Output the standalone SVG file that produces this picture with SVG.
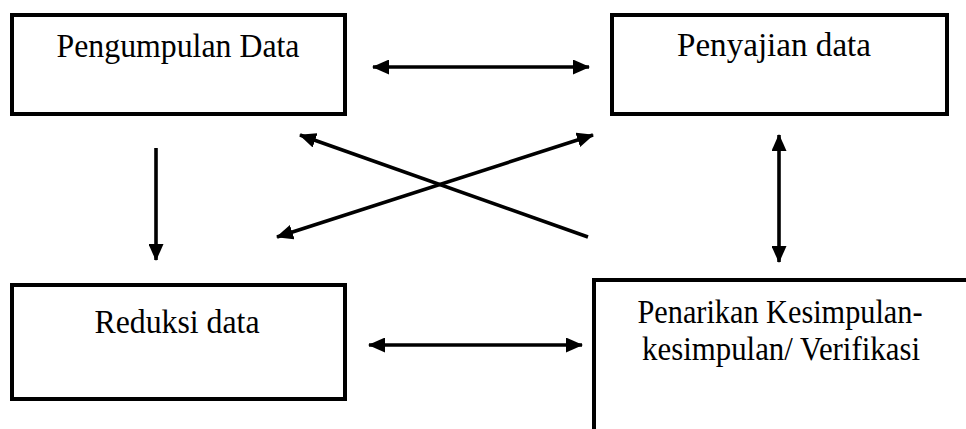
<svg xmlns="http://www.w3.org/2000/svg" width="966" height="429" viewBox="0 0 966 429">
<style>
.box{fill:#fff;stroke:#000;stroke-width:4}
.lbl{font-family:"Liberation Serif","Times New Roman",serif;font-size:34px;fill:#000;text-anchor:middle}
.conn{stroke:#000;stroke-width:3.6;fill:none}
</style>
<defs>
<marker id="ah" markerUnits="userSpaceOnUse" markerWidth="17" markerHeight="15" refX="16" refY="7.5" orient="auto-start-reverse" viewBox="0 0 17 15">
<path d="M0,0 L17,7.5 L0,15 Z" fill="#000"/>
</marker>
</defs>
<rect width="966" height="429" fill="#fff"/>
<g id="pengumpulan">
<rect class="box" x="12" y="15" width="333" height="99"/>
<text class="lbl" x="178" y="57" textLength="243" lengthAdjust="spacingAndGlyphs">Pengumpulan Data</text>
</g>
<g id="penyajian">
<rect class="box" x="612" y="15" width="335" height="99"/>
<text class="lbl" x="774" y="56" textLength="194" lengthAdjust="spacingAndGlyphs">Penyajian data</text>
</g>
<g id="reduksi">
<rect class="box" x="12" y="285" width="333" height="114"/>
<text class="lbl" x="177" y="333" textLength="165" lengthAdjust="spacingAndGlyphs">Reduksi data</text>
</g>
<g id="penarikan">
<rect class="box" x="594" y="280" width="400" height="200"/>
<text class="lbl" x="780" y="323" textLength="285" lengthAdjust="spacingAndGlyphs">Penarikan Kesimpulan-</text>
<text class="lbl" x="781" y="360" textLength="278" lengthAdjust="spacingAndGlyphs">kesimpulan/ Verifikasi</text>
</g>
<g id="connectors">
<line class="conn" x1="373" y1="67" x2="589" y2="67" marker-start="url(#ah)" marker-end="url(#ah)"/>
<line class="conn" x1="156" y1="148" x2="156" y2="260" marker-end="url(#ah)"/>
<line class="conn" x1="779" y1="135" x2="779" y2="262" marker-start="url(#ah)" marker-end="url(#ah)"/>
<line class="conn" x1="369" y1="345" x2="582" y2="345" marker-start="url(#ah)" marker-end="url(#ah)"/>
<line class="conn" x1="588" y1="237" x2="300" y2="135" marker-end="url(#ah)"/>
<line class="conn" x1="277" y1="237" x2="593" y2="135" marker-start="url(#ah)" marker-end="url(#ah)"/>
</g>
</svg>
